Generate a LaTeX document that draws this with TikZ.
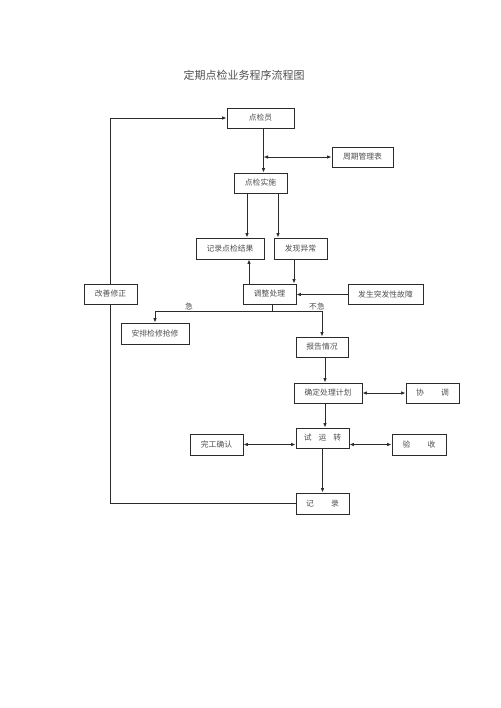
\documentclass[tikz,border=0pt]{standalone}
\usepackage{fontspec}
\setmainfont{Noto Sans CJK SC}
\usepackage{tikz}
\usetikzlibrary{arrows.meta,positioning}
\definecolor{ink}{HTML}{2B2B2B}
\definecolor{textgray}{HTML}{505050}

\begin{document}
\begin{tikzpicture}[x=1pt,y=-1pt,
 box/.style={draw=ink,line width=0.9pt,fill=white,inner sep=0pt,text=textgray,font=\fontsize{7.8}{9}\selectfont,minimum height=20pt},
 ln/.style={draw=ink,line width=0.95pt},
 arr/.style={ln,-{Latex[length=4.5pt,width=3.6pt]}},
 dbl/.style={ln,{Latex[length=4.5pt,width=3.6pt]}-{Latex[length=4.5pt,width=3.6pt]}},
 lbl/.style={text=textgray,font=\fontsize{7.8}{9}\selectfont,inner sep=1pt}
]
\useasboundingbox (0,0) rectangle (500,708);
\node[text=textgray,font=\fontsize{11}{13}\selectfont] (title) at (244,75) {定期点检业务程序流程图};
\node[box,minimum width=67pt] (yuan) at (260.5,118) {点检员};
\node[box,minimum width=61pt] (zhouqi) at (362.5,157) {周期管理表};
\node[box,minimum width=53pt] (shishi) at (260.5,183) {点检实施};
\node[box,minimum width=68pt,minimum height=21pt] (jieguo) at (230,248.5) {记录点检结果};
\node[box,minimum width=53pt,minimum height=21pt] (yichang) at (300.5,248.5) {发现异常};
\node[box,minimum width=53pt] (tiaozheng) at (269.5,294) {调整处理};
\node[box,minimum width=75pt] (guzhang) at (385.5,294.5) {发生突发性故障};
\node[box,minimum width=53pt] (gaishan) at (110.5,294) {改善修正};
\node[box,minimum width=68pt,minimum height=21pt] (anpai) at (155,333.5) {安排检修抢修};
\node[box,minimum width=52pt] (baogao) at (322,347) {报告情况};
\node[box,minimum width=68pt] (jihua) at (328,393) {确定处理计划};
\node[box,minimum width=53pt] (xietiao) at (432.5,393) {协\hspace{2.2em}调};
\node[box,minimum width=53pt] (shiyun) at (322.5,438) {试\hspace{0.9em}运\hspace{0.9em}转};
\node[box,minimum width=53pt,minimum height=21pt] (wangong) at (216.5,444.5) {完工确认};
\node[box,minimum width=54pt,minimum height=21pt] (yanshou) at (419,444.5) {验\hspace{2.2em}收};
\node[box,minimum width=53pt,minimum height=21pt] (jilu) at (322.5,503.5) {记\hspace{2.2em}录};
% main chain
\draw[arr] ([xshift=3pt]yuan.south) -- ([xshift=3pt]yuan.south |- shishi.north);
\draw[dbl] ([xshift=3pt]yuan.south |- zhouqi.west) -- (zhouqi.west);
\draw[arr] ([xshift=-13.5pt]shishi.south) -- ([xshift=-13.5pt]shishi.south |- jieguo.north);
\draw[arr] ([xshift=17.5pt]shishi.south) -- ([xshift=17.5pt]shishi.south |- yichang.north);
\draw[arr] ([xshift=-20.5pt]tiaozheng.north) -- ([xshift=-20.5pt]tiaozheng.north |- jieguo.south);
\draw[arr] ([xshift=24.5pt]tiaozheng.north |- yichang.south) -- ([xshift=24.5pt]tiaozheng.north);
\draw[arr] (guzhang.west) -- (guzhang.west -| tiaozheng.east);
% urgent / not urgent
\draw[ln] ([xshift=2.5pt]tiaozheng.south) -- ++(0,7) coordinate (fork);
\draw[arr] (fork) -| node[lbl,above,pos=0.355] {急} (anpai.north);
\draw[arr] (fork) -| node[lbl,above,pos=0.45] {不急} (baogao.north);
\draw[arr] ([xshift=3pt]baogao.south) -- ([xshift=3pt]baogao.south |- jihua.north);
\draw[dbl] (jihua.east) -- (xietiao.west);
\draw[arr] ([xshift=-3pt]jihua.south) -- ([xshift=-3pt]jihua.south |- shiyun.north);
\draw[dbl] (wangong.east) -- (wangong.east -| shiyun.west);
\draw[dbl] (yanshou.west -| shiyun.east) -- (yanshou.west);
\draw[arr] (shiyun.south) -- (jilu.north);
% feedback loop
\draw[ln] (jilu.west) -| (gaishan.south);
\draw[arr] (gaishan.north) |- (yuan.west);
\end{tikzpicture}
\end{document}
